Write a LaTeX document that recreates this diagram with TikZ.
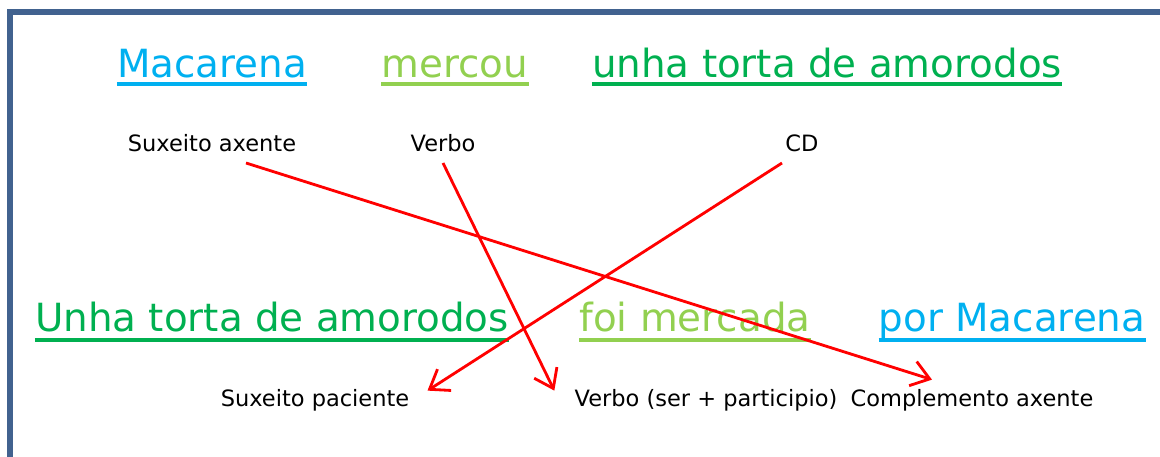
\documentclass[tikz,border=0pt]{standalone}
\usepackage{fontspec}
\setmainfont{DejaVu Sans}
\usetikzlibrary{arrows.meta,calc}

\definecolor{frameblue}{RGB}{65,98,143}
\definecolor{agentcyan}{RGB}{0,176,240}
\definecolor{verbgreen}{RGB}{146,208,80}
\definecolor{objgreen}{RGB}{0,176,80}
\definecolor{linkred}{RGB}{255,0,0}

\tikzset{
  phrase/.style={inner sep=0pt, anchor=base, font=\fontsize{27.6}{32}\selectfont},
  role/.style={inner sep=0pt, anchor=base, font=\fontsize{16}{19}\selectfont},
  uline/.style={line width=2.6pt},
  link/.style={linkred, line width=2pt, -{Straight Barb[length=12.5pt,width=18pt,line width=2pt]}}
}

\begin{document}
\begin{tikzpicture}[x=0.025cm, y=-0.025cm]
    %% Background
    \useasboundingbox (0,0) rectangle (1160,457);
    \clip (0,0) rectangle (1160,457);
    \draw[frameblue, line width=4.5pt] (10,12) rectangle (1200,500);

    %% Active sentence
    \node[phrase, agentcyan] (mac) at (212,78) {Macarena};
    \node[phrase, verbgreen] (merc) at (455,78) {mercou};
    \node[phrase, objgreen] (torta) at (827,78) {unha torta de amorodos};
    \draw[uline, agentcyan] ($(mac.base west)+(0,6)$) -- ($(mac.base east)+(0,6)$);
    \draw[uline, verbgreen] ($(merc.base west)+(0,6)$) -- ($(merc.base east)+(0,6)$);
    \draw[uline, objgreen] ($(torta.base west)+(0,6)$) -- ($(torta.base east)+(0,6)$);

    \node[role] (sa) at (212,152) {Suxeito axente};
    \node[role] (vb) at (443,152) {Verbo};
    \node[role] (cd) at (802,152) {CD};

    %% Passive sentence
    \node[phrase, objgreen] (Torta) at (272,332) {Unha torta de amorodos};
    \node[phrase, verbgreen] (foi) at (695,332) {foi mercada};
    \node[phrase, agentcyan] (por) at (1012,332) {por Macarena};
    \draw[uline, objgreen] ($(Torta.base west)+(0,8)$) -- ($(Torta.base east)+(0,8)$);
    \draw[uline, verbgreen] ($(foi.base west)+(0,8)$) -- ($(foi.base east)+(0,8)$);
    \draw[uline, agentcyan] ($(por.base west)+(0,8)$) -- ($(por.base east)+(0,8)$);

    \node[role] (sp) at (315,407) {Suxeito paciente};
    \node[role] (vsp) at (706,407) {Verbo (ser + participio)};
    \node[role] (ca) at (972,407) {Complemento axente};

    %% Links
    \draw[link] ($(sa.base)+(34,11)$) -- ($(ca.north)+(-40,-10)$);
    \draw[link] ($(vb.base)+(0,11)$) -- ($(vsp.north west)+(-20,1)$);
    \draw[link] ($(cd.base)+(-20,11)$) -- ($(sp.north east)+(18,1)$);
\end{tikzpicture}
\end{document}
